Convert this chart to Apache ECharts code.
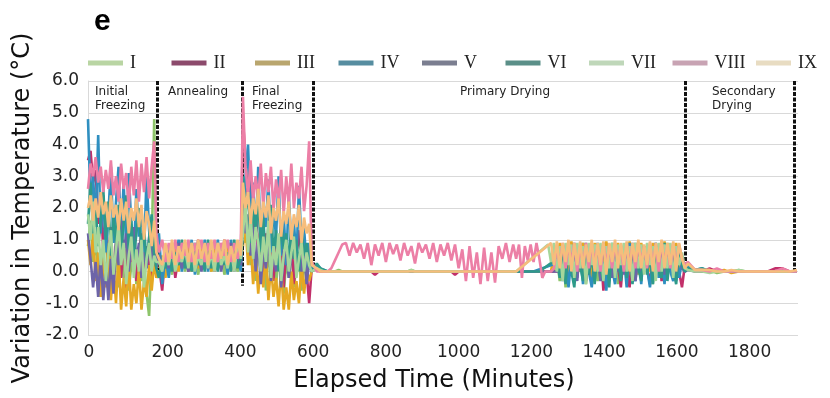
<!DOCTYPE html>
<html>
<head>
<meta charset="utf-8">
<script src="https://cdn.jsdelivr.net/npm/echarts@6/dist/echarts.min.js"></script>
<style>html,body{margin:0;padding:0;background:#fff}#c{width:830px;height:398px}</style>
</head>
<body>
<div id="c"></div>
<script>
// ---- tick labels / categories ----
const seriesNames = ['I','II','III','IV','V','VI','VII','VIII','IX'];
const xTickValues = [0,200,400,600,800,1000,1200,1400,1600,1800];
const phaseNames = ['Initial\nFreezing','Annealing','Final\nFreezing','Primary Drying','Secondary\nDrying'];
const phaseBounds = [171, 405, 600, 1624, 1922];
const phaseLineBottoms = [0.05, -0.45, 0.2, 0.05, 0.0];

// ---- time grids (minutes) for each segment ----
const tInit = [-19,-12,-5,2,9,16,23,30,37,44,51,58,65,72,79,86,93,100,107,114,121,128,135,142,149,156,163,169];
const tAnneal = [176,185,194,203,212,221,230,239,248,257,266,275,284,293,302,311,320,329,338,347,356,365,374,383,392,401];
const tFinal = [407,414,421,428,435,442,449,456,463,470,477,484,491,498,505,512,519,526,533,540,547,554,561,568,575,582,589,596];
const tDry1 = [610,620,630,640,650,660,670,680,690,700,710,720,730,740,750,760,770,780,790,800,810,820,830,840,850,860,870,880,890,900,910,920,930,940,950,960,970,980,990,1000,1010,1020,1030,1040,1050,1060,1070,1080,1090,1100,1110,1120,1130,1140,1150];
const tDry2 = [1158,1166,1174,1182,1190,1198,1206,1214,1222,1230,1238,1246,1254,1262,1270,1278,1286,1294,1302,1310,1318,1326,1334,1342,1350,1358,1366,1374,1382,1390,1398,1406,1414,1422,1430,1438,1446,1454,1462,1470,1478,1486,1494,1502,1510,1518,1526,1534,1542,1550,1558,1566,1574,1582,1590,1598,1606,1614,1622];
const tSecondary = [1630,1650,1670,1690,1710,1730,1750,1770,1790,1810,1830,1850,1870,1890,1910,1930];

// ---- series values (°C variation), one sub-array per segment ----
const valsI = [
 [0.8,1.6,0.3,1.0,-0.2,-0.8,0.4,1.2,-0.3,0.6,0.0,0.9,-0.5,0.5,-0.2,0.7,-0.6,0.2,0.8,-0.4,0.6,-0.3,0.3,-0.7,-1.4,0.6,4.8,0.2],
 [0.1,0.3,0.0,0.5,-0.1,0.7,0.2,0.5,0.0,0.8,0.1,0.4,-0.1,0.6,0.2,0.9,0.0,0.4,0.1,0.7,-0.1,0.5,0.2,0.8,0.0,0.3],
 [2.0,0.9,1.5,0.2,1.2,-0.3,0.8,0.3,1.3,-0.6,0.5,0.0,1.0,-0.4,0.4,0.9,-0.7,0.3,-0.2,0.8,-0.5,0.2,0.6,-0.6,0.4,-0.3,0.5,0.1],
 [0.15,0.05,0,0,0,0,0.05,0,0,0, 0,0,0,0,0,0,0,0,0,0, 0,0,0,0,0,0,0.05,0,0,0, 0,0,0,0,0,0,0,0,0,0, 0,0,0,0,0,0,0,0,0,0, 0,0,0,0,0],
 [0,0,0,0,0,0,0,0,0,0,0,0,0,0, 0.5,-0.3,0.7,-0.5,0.4,0.8,-0.2,0.6,0.0,0.9,-0.4,0.5,0.1,0.8,-0.3,0.6,0.0,0.9,-0.2,0.4,0.7,-0.4,0.5,0.1,0.8,-0.3,0.6,0.0,0.9,-0.2,0.5,0.1,0.8,-0.4,0.6,0.0,0.7,-0.3,0.9,0.1,0.5,-0.2,0.8,0.3, 0.0],
 [0.1,0.05,0,0.05,-0.05,0,0,0.05,0,0,0,0,0,0,0,0]
];
const valsII = [
 [3.5,3.8,2.8,3.2,1.5,2.5,0.6,1.8,0.2,1.4,-0.4,0.8,1.6,-0.2,1.0,-0.6,0.9,0.3,1.4,-0.3,0.6,1.2,-0.2,0.8,0.2,-0.4,1.5,0.2],
 [0.2,-0.6,0.6,0.0,0.9,-0.2,0.5,0.2,0.9,0.0,0.6,0.3,1.0,0.1,0.5,0.2,0.9,0.0,0.6,0.3,1.0,0.1,0.5,0.2,0.9,0.1],
 [4.8,3.5,2.2,2.9,1.2,2.1,0.4,1.5,-0.2,1.2,0.5,1.6,-0.3,0.9,0.2,1.3,-0.5,0.8,0.1,1.1,-0.4,0.6,1.3,-0.2,0.7,0.0,-1.0,0.1],
 [0.2,0.05,0,0,0,0,0,0,0,0, 0,0,0,0,0,0,-0.1,0,0,0, 0,0,0,0,0,0,0,0,0,0, 0,0,0,0,0,0,0,0,-0.1,0, 0,0,0,0,0,0,0,0,0,0, 0,0,0,0,0],
 [0,0,0,0,0,0,0,0,0,0,0,0,0,0,0, 0.3,-0.1,0.7,0.0,0.5,-0.2,0.8,0.1,0.4,-0.3,0.7,0.0,0.5,0.2,0.8,-0.6,0.3,0.6,-0.1,0.8,0.2,-0.5,0.6,0.1,-0.5,0.7,0.0,0.5,-0.2,0.8,0.1,-0.4,0.6,0.0,0.7,-0.3,0.5,0.1,0.8,-0.2,0.4,0.0,-0.5, 0.2],
 [0.2,0.05,0,0.1,0,0,0,0,0,0,0,0,0.1,0.1,0,0]
];
const valsIII = [
 [1.0,0.2,1.2,-0.3,0.6,-0.8,0.4,-0.5,0.9,-0.9,0.2,-1.0,0.5,-1.2,-0.2,-1.1,0.3,-1.2,-0.4,-1.0,0.1,-1.2,-0.3,-0.8,0.2,-0.6,0.3,-0.2],
 [0.0,0.5,-0.2,0.7,0.1,0.9,0.0,0.6,0.2,0.8,0.0,0.7,0.1,0.9,0.2,0.6,0.0,0.8,0.1,0.7,0.2,0.9,0.0,0.6,0.1,0.3],
 [0.8,1.5,0.2,0.9,-0.4,0.5,-0.7,0.3,-0.5,0.6,-0.9,0.2,-0.8,-0.2,-1.1,0.1,-1.2,-0.5,-1.2,0.0,-0.9,-0.3,-1.0,0.2,-0.7,0.1,-0.3,0.0],
 [0.1,0,0,0,0,0,0,0,0,0, 0,0,0,0,0,0,0,0,0,0, 0,0,0,0,0,0,0,0,0,0, 0,0,0,0,0,0,0,0,0,0, 0,0,0,0,0,0,0,0,0,0, 0,0,0,0,0],
 [0,0,0,0,0,0,0,0,0,0,0,0,0, 0.6,0.0,0.9,0.2,0.8,-0.1,0.95,0.3,0.7,0.0,0.9,0.1,0.8,-0.2,0.9,0.3,0.7,0.0,0.95,0.2,0.8,-0.1,0.9,0.1,0.7,0.0,0.95,0.3,0.8,-0.1,0.9,0.2,0.7,0.0,0.9,0.1,0.8,-0.2,0.95,0.2,0.7,0.0,0.9,0.1,0.5, 0.0],
 [0.1,0,0,0,0,0.05,-0.05,0,0,0,0,0,0,0,0,0]
];
const valsIV = [
 [4.8,2.2,3.0,1.4,4.3,1.2,2.4,0.6,1.8,3.3,0.9,2.2,3.3,1.0,2.8,0.8,3.1,1.5,0.4,2.6,1.1,2.0,0.5,3.0,1.3,0.2,1.0,0.3],
 [1.2,-0.4,0.5,-0.2,0.8,0.1,1.0,0.0,0.7,0.2,1.0,-0.1,0.6,0.1,1.0,0.0,0.8,0.2,1.0,0.1,0.7,-0.1,1.0,0.2,0.6,0.0],
 [1.5,3.0,4.0,1.6,2.8,1.0,3.3,0.8,2.2,1.4,2.9,0.6,2.0,1.1,3.0,0.5,1.8,0.2,2.4,0.9,1.6,0.3,2.7,0.8,1.4,0.1,0.9,0.1],
 [0.2,0.1,0.05,0,0,0,0,0,0,0, 0,0,0,0,0,0,0,0,0,0, 0,0,0,0,0,0,0,0,0,0, 0,0,0,0,0,0,0,0,0,0, 0,0,0,0,0,0,0,0,0,0, 0,0,0,0,0],
 [0,0,0,0,0,0,0, null,null,null,null,null,null,null,null, 0.3, -0.3,0.7,-0.5,0.4,0.9,-0.2,0.6,-0.4,0.8,0.0,-0.5,0.5,0.9,-0.3,0.3,-0.6,0.7,0.1,-0.4,0.8,-0.2,0.5,-0.5,0.9,0.0,-0.3,0.6,-0.4,0.8,0.1,-0.5,0.4,0.9,-0.2,0.6,-0.4,0.7,0.0,-0.3,0.8,-0.2,0.3, 0.0],
 [0.15,0.05,0.1,0,0,0,0,0,0,0,0,0,0,0,0,0]
];
const valsV = [
 [1.2,0.4,-0.5,0.3,-0.8,0.5,-0.9,0.2,-0.9,0.4,-0.7,1.0,0.2,1.6,0.5,1.2,0.0,0.8,1.4,0.3,0.9,-0.2,0.6,0.1,1.1,0.4,0.8,0.1],
 [0.5,0.0,0.7,0.1,0.6,0.3,0.9,0.1,0.5,0.0,0.8,0.2,0.6,0.0,0.9,0.1,0.5,0.3,0.8,0.0,0.6,0.2,0.9,0.0,0.5,0.2],
 [2.2,1.2,1.8,0.5,1.4,0.0,1.0,-0.4,0.7,0.1,1.2,-0.3,0.6,0.0,0.9,-0.5,0.4,0.8,-0.2,0.5,1.0,-0.1,0.6,0.0,0.8,-0.4,0.3,0.0],
 [0.1,0,0,0,0,0,0,0,0,0, 0,0,0,0,0,0,0,0,0,0, 0,0,0,0,0,0,0,0,0,0, 0,0,0,0,0,0,0,0,0,0, 0,0,0,0,0,0,0,0,0,0, 0,0,0,0,0],
 [0,0,0,0,0,0,0,0,0,0,0,0,0,0,0,0, 0.4,-0.2,0.8,0.1,0.6,-0.3,0.9,0.0,0.5,-0.1,0.8,0.2,0.6,-0.3,0.9,0.1,0.4,-0.2,0.7,0.0,0.8,-0.1,0.5,0.2,0.9,-0.3,0.6,0.0,0.8,0.1,0.4,-0.2,0.9,0.0,0.6,-0.1,0.8,0.2,0.5,-0.3,0.7,0.1, 0.0],
 [0.05,0,0,0,0,0,0,0,0,0,0,0,0,0,0,0]
];
const valsVI = [
 [1.5,2.8,1.2,2.0,0.8,1.6,2.6,1.0,2.2,0.5,1.8,0.9,2.1,0.6,1.5,2.4,0.7,1.6,0.4,1.2,2.0,0.6,1.4,0.3,1.0,1.8,0.5,0.1],
 [-0.2,0.4,0.1,0.8,0.0,0.6,0.2,1.0,0.1,0.5,0.0,0.9,0.2,0.6,0.0,1.0,0.1,0.5,0.0,0.8,0.2,0.6,0.0,1.0,0.1,0.4],
 [3.0,1.8,2.6,0.9,2.0,1.2,2.4,0.6,1.7,0.3,1.5,2.1,0.5,1.3,0.0,1.6,0.7,1.2,0.2,1.5,0.4,1.0,0.0,1.3,0.5,0.9,0.2,0.0],
 [0.25,0.1,0.05,0,0,0,0,0,0,0, 0,0,0,0,0,0,0,0,0,0, 0,0,0,0,0,0,0,0,0,0, 0,0,0,0,0,0,0,0,0,0, 0,0,0,0,0,0,0,0,0,0, 0,0,0,0,0],
 [0,0,0,0,0,0,0,0,0, null,null,null,null,null, 0.4, -0.2,0.6,-0.4,0.8,0.0,-0.5,0.7,0.2,-0.3,0.9,-0.1,0.5,-0.4,0.8,0.1,-0.3,0.6,-0.5,0.9,0.0,0.4,-0.3,0.8,-0.2,0.6,-0.4,0.9,0.1,-0.3,0.7,-0.1,0.5,-0.4,0.8,0.0,-0.2,0.9,-0.3,0.6,0.1,-0.4,0.7,0.2, 0.0],
 [0.1,0.05,0.1,0,0,0,0,0,0,0,0,0,0,0,0,0]
];
const valsVII = [
 [1.8,1.0,2.2,0.6,1.4,0.2,1.0,-0.3,0.6,1.3,-0.1,0.7,1.5,0.2,0.9,-0.4,0.5,1.1,-0.2,0.7,0.0,1.0,-0.5,0.4,0.9,0.0,0.5,0.3],
 [0.3,0.0,0.6,0.2,0.8,0.0,0.5,0.3,0.7,0.1,0.9,0.0,0.5,0.2,0.8,0.1,0.6,0.0,0.9,0.2,0.5,0.1,0.7,0.0,0.8,0.4],
 [1.2,2.2,0.6,1.8,0.4,1.4,0.9,0.0,1.1,0.3,1.6,-0.2,0.8,0.2,1.2,-0.3,0.5,1.0,0.0,0.6,1.1,-0.2,0.4,0.9,0.0,0.6,0.2,0.0],
 [0.1,0.05,0,0,0,0,0,0,0,0, 0,0,0,0,0,0,0,0,0,0, 0,0,0,0,0,0,0.05,0,0,0, 0,0,0,0,0,0,0,0,0,0, 0,0,0,0,0,0,0,0,0,0, 0,0,0,0,0],
 [0.0, null,null,null,null,null,null,null,null,null,null, 0.85, 0.3,0.9,0.0,0.8,-0.3,0.9,0.2,0.85,-0.2,0.9,0.1,0.8,-0.4,0.9,0.2,0.85,0.0,0.9,-0.3,0.8,0.1,0.9,-0.2,0.85,0.2,0.9,0.0,0.8,-0.3,0.9,0.1,0.85,-0.1,0.9,0.2,0.8,-0.3,0.9,0.0,0.85,0.1,0.9,-0.2,0.8,0.2,0.6, 0.1],
 [0.05,0,0,-0.05,0,0,0,0.05,0,0,0,0,0,0,0,0]
];
const valsVIII = [
 [2.6,3.4,3.0,3.6,2.8,3.3,2.5,3.2,2.6,3.5,2.4,3.0,2.2,3.4,2.6,3.1,2.0,3.3,2.4,3.5,2.2,3.4,2.5,3.6,2.3,3.3,4.1,1.2],
 [0.6,1.0,0.3,0.9,0.4,1.0,0.3,0.9,0.5,1.0,0.3,0.9,0.4,1.0,0.3,0.9,0.4,1.0,0.3,0.9,0.5,1.0,0.3,0.9,0.4,0.8],
 [5.5,3.3,2.4,3.5,2.2,3.0,2.3,3.4,2.0,3.1,2.5,3.3,1.9,2.9,2.2,3.2,1.8,3.0,2.1,3.4,2.0,2.8,2.3,3.3,1.9,2.7,4.1,0.3],
 [0.0,0.0,0.0,0.0,0.1,0.35,0.6,0.85,0.9,0.5,0.9,0.6,0.85,0.4,0.9,0.2,0.85,0.5,0.9,0.3,0.9,0.55,0.85,0.35,0.9,0.5,0.8,0.25,0.9,0.6,0.85,0.4,0.9,0.3,0.85,0.5,0.9,0.35,0.85,0.1,0.7,-0.3,0.8,-0.2,0.6,-0.4,0.75,-0.3,0.6,-0.35,0.8,0.4,0.9,0.3,0.85],
 [0.4,0.85,-0.2,0.8,0.35,0.85,0.3,0.9,0.4,-0.2,0.0,0.0, 0.0,0.1,0.8,0.2,0.9,0.1,0.85,0.3,0.9,0.0,0.8,0.2,0.9,0.1,0.85,0.3,0.8,0.0,0.9,0.2,0.85,0.1,0.9,0.3,0.8,0.0,0.9,0.2,0.85,0.1,0.9,0.3,0.8,0.1,0.9,0.2,0.85,0.0,0.9,0.3,0.8,0.1,0.9,0.2,0.85,0.4, 0.2],
 [0.3,0.05,0.05,0,0.1,0,0,0,0,0,0,0,0,0.1,0,0]
];
const valsIX = [
 [2.0,2.4,1.6,2.3,1.7,2.5,1.8,2.2,1.4,2.4,1.7,2.1,1.3,2.3,1.6,2.2,1.2,2.0,1.6,2.3,1.4,2.1,1.0,1.9,1.5,0.8,1.6,0.6],
 [0.4,0.2,0.9,0.3,1.0,0.2,0.8,0.4,1.0,0.3,0.9,0.2,1.0,0.4,0.9,0.2,1.0,0.3,0.9,0.4,1.0,0.2,0.8,0.3,1.0,0.5],
 [2.8,2.0,2.5,1.5,2.3,1.8,2.6,1.4,2.2,1.7,2.4,1.2,2.0,1.6,2.3,1.1,1.9,1.5,2.2,1.0,1.8,1.4,2.1,0.9,1.7,1.2,1.5,0.2],
 [0.1,0,0,0,0,0,0,0,0,0, 0,0,0,0,0,0,0,0,0,0, 0,0,0,0,0,0,0,0,0,0, 0,0,0,0,0,0,0,0,0,0, 0,0,0,0,0,0,0,0,0,0, 0,0,0,0,0],
 [0.0, null,null,null,null,null,null,null,null,null,null,null, 0.9, 0.2,0.95,0.1,0.9,0.3,1.0,0.0,0.9,0.2,0.95,0.1,0.85,0.3,1.0,0.0,0.9,0.2,0.95,-0.1,0.9,0.3,1.0,0.1,0.9,0.2,0.95,0.0,0.9,0.3,1.0,0.1,0.85,0.2,0.95,0.0,0.9,0.3,1.0,0.1,0.9,0.2,0.95,0.0,0.9,0.4, 0.1],
 [0.25,0.05,0.05,0.05,0,0,0.05,0,0,0,0,0,0,0,0,0.05]
];

// ---- colours ----
const lineColors = ['#8dc46a','#c2306a','#e5a823','#2f8fc0','#6d64a8','#2e9a8a','#a6d69a','#ec7fa6','#f6bd7c'];
const legendColors = ['#b9d5a3','#8c4a6c','#b9a66e','#568da0','#7b7e90','#5b8f88','#bfd7b9','#c8a3b3','#e8dcc2'];

const segments = [tInit, tAnneal, tFinal, tDry1, tDry2, tSecondary];
const allVals = [valsI, valsII, valsIII, valsIV, valsV, valsVI, valsVII, valsVIII, valsIX];

function buildData(vals) {
  const out = [];
  segments.forEach((ts, s) => {
    const vs = vals[s] || [];
    ts.forEach((t, i) => {
      if (i < vs.length && vs[i] !== null && vs[i] !== undefined) out.push([t, vs[i]]);
    });
  });
  return out;
}

const chart = echarts.init(document.getElementById('c'), null, {renderer: 'canvas'});

const series = seriesNames.map((n, k) => ({
  name: n,
  type: 'line',
  data: buildData(allVals[k]),
  showSymbol: false,
  symbol: 'none',
  color: lineColors[k],
  lineStyle: {width: 2.6, color: lineColors[k]},
  z: 2 + k,
  silent: true
}));

series.push({
  name: '__phases',
  type: 'line',
  data: [],
  silent: true,
  z: 20,
  markLine: {
    silent: true,
    symbol: ['none', 'none'],
    label: {show: false},
    lineStyle: {color: '#111', width: 3, type: [4, 1.5]},
    data: phaseBounds.map((t, i) => [{coord: [t, 6]}, {coord: [t, phaseLineBottoms[i]]}])
  }
});

const phaseLabelX = [95, 168, 252, 460, 712];

const legends = seriesNames.map((n, i) => ({
  data: [{name: n, itemStyle: {color: legendColors[i]}, lineStyle: {color: legendColors[i]}}],
  left: 88 + 83.5 * i, top: 54,
  icon: 'rect',
  itemWidth: 35, itemHeight: 5, itemGap: 0,
  selectedMode: false,
  padding: 0,
  textStyle: {fontFamily: 'Liberation Serif', fontSize: 18, color: '#222', padding: [0, 0, 0, 2]}
}));

chart.setOption({
  animation: false,
  backgroundColor: '#ffffff',
  grid: {left: 88, right: 32, top: 81, bottom: 62, containLabel: false},
  legend: legends,
  xAxis: {
    type: 'value',
    min: -19, max: 1933,
    name: 'Elapsed Time (Minutes)',
    nameLocation: 'middle',
    nameGap: 34,
    nameTextStyle: {fontFamily: 'DejaVu Sans', fontSize: 24, color: '#111', padding: [0, 18, 0, 0]},
    axisLine: {show: false, onZero: false},
    axisTick: {show: false},
    splitLine: {show: false},
    axisLabel: {
      customValues: xTickValues,
      fontFamily: 'DejaVu Sans', fontSize: 17, color: '#222', margin: 9,
      formatter: v => {
        const r = Math.round(v);
        if (xTickValues.indexOf(r) < 0) return '';
        return r === 0 ? '{z|0}' : String(r);
      },
      rich: {z: {fontFamily: 'DejaVu Sans', fontSize: 17, color: '#222', padding: [0, 12, 0, 0]}}
    }
  },
  yAxis: {
    type: 'value',
    min: -2, max: 6, interval: 1,
    name: 'Variation in Temperature (°C)',
    nameLocation: 'middle',
    nameGap: 50,
    nameTextStyle: {fontFamily: 'DejaVu Sans', fontSize: 24, color: '#111'},
    axisLine: {show: true, onZero: false, lineStyle: {color: '#d9d9d9'}},
    axisTick: {show: false},
    splitLine: {lineStyle: {color: '#d9d9d9', width: 1}},
    axisLabel: {fontFamily: 'DejaVu Sans', fontSize: 17, color: '#222', margin: 9, formatter: v => v.toFixed(1)}
  },
  graphic: [
    {type: 'text', left: 94, top: 7, style: {text: 'e', font: 'bold 30px "Liberation Sans"', fill: '#000'}}
  ].concat(phaseNames.map((p, i) => ({
    type: 'text', x: phaseLabelX[i], y: 85,
    style: {text: p, fontFamily: 'DejaVu Sans', fontSize: 12, lineHeight: 14, fill: '#222', verticalAlign: 'top', align: 'left'}
  }))),
  series: series
});
</script>
</body>
</html>
